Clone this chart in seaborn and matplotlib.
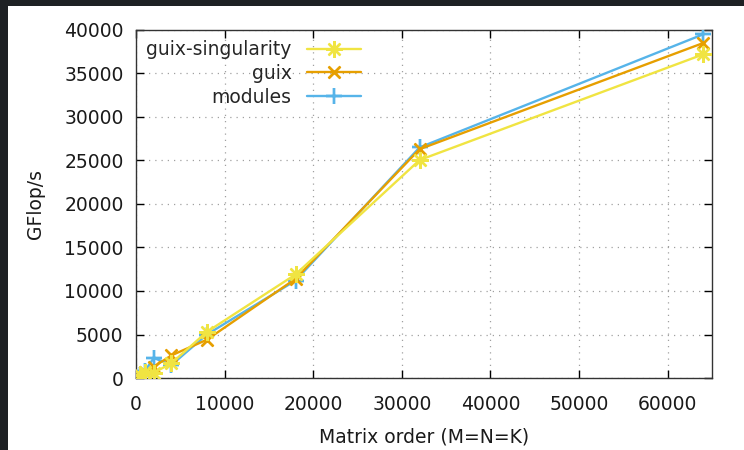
import matplotlib
matplotlib.use("Agg")
import matplotlib.pyplot as plt
import seaborn as sns
import pandas as pd
from matplotlib.patches import Rectangle

# Data
matrix_order = [500, 1000, 2000, 4000, 8000, 18000, 32000, 64000]
guix_singularity = [400, 700, 600, 1700, 5300, 11900, 25050, 37200]
guix = [300, 650, 1300, 2600, 4400, 11400, 26300, 38500]
modules = [300, 800, 2300, 1500, 5000, 11200, 26500, 39500]

series_names = ["guix-singularity", "guix", "modules"]
series_values = [guix_singularity, guix, modules]
colors = ["#f0e442", "#e69f00", "#56b4e9"]
markers = [(8, 2, 0), (4, 2, 45), (4, 2, 0)]
zorders = [5, 4, 3]

x_ticks = [0, 10000, 20000, 30000, 40000, 50000, 60000]
y_ticks = [0, 5000, 10000, 15000, 20000, 25000, 30000, 35000, 40000]

FS = 13.5

sns.set_theme(style="white")
plt.rcParams["font.family"] = ["DejaVu Sans"]

fig = plt.figure(figsize=(7.44, 4.5), dpi=100)
fig.patch.set_facecolor("white")
# dark frame bands (screenshot border)
fig.patches.append(Rectangle((0, 0), 8 / 744, 1, transform=fig.transFigure,
                             facecolor="#1e2124", edgecolor="none", zorder=0))
fig.patches.append(Rectangle((0, 1 - 6 / 450), 1, 6 / 450, transform=fig.transFigure,
                             facecolor="#1e2124", edgecolor="none", zorder=0))

ax = fig.add_axes([136 / 744, 1 - 378 / 450, (712 - 136) / 744, (378 - 30) / 450])

for name, vals, c, m, z in zip(series_names, series_values, colors, markers, zorders):
    df = pd.DataFrame({"x": matrix_order, "y": vals})
    sns.lineplot(data=df, x="x", y="y", ax=ax, color=c, marker=m, markersize=12,
                 markeredgewidth=1.7, markeredgecolor=c, linewidth=1.7,
                 label=name, zorder=z, sort=False)

ax.set_xlim(0, 65000)
ax.set_ylim(0, 40000)
ax.set_xticks(x_ticks)
ax.set_yticks(y_ticks)
ax.set_xticklabels([str(t) for t in x_ticks], fontsize=FS)
ax.set_yticklabels([str(t) for t in y_ticks], fontsize=FS)
ax.tick_params(axis="y", direction="in", length=6, width=1, left=True, right=True,
               colors="black", pad=9)
ax.tick_params(axis="x", direction="in", length=6, width=1, top=True, bottom=True,
               colors="black", pad=12)
for lab in ax.get_xticklabels() + ax.get_yticklabels():
    lab.set_color("#1a1a1a")
ax.grid(True, linestyle=(0, (1, 4)), color="#a0a0a0", linewidth=0.9)
for s in ax.spines.values():
    s.set_color("#333333")
    s.set_linewidth(1.0)

ax.set_xlabel("Matrix order (M=N=K)", fontsize=FS, color="#1a1a1a", labelpad=10)
ax.set_ylabel("GFlop/s", fontsize=FS, color="#1a1a1a", labelpad=14)

leg = ax.legend(loc="upper left", bbox_to_anchor=(0.0, 1.0), frameon=False,
                markerfirst=False, handlelength=2.9, fontsize=FS,
                labelspacing=0.25, borderaxespad=0.2, borderpad=0.35,
                handletextpad=0.8)

fig.savefig("out.png", dpi=100, facecolor="white")
